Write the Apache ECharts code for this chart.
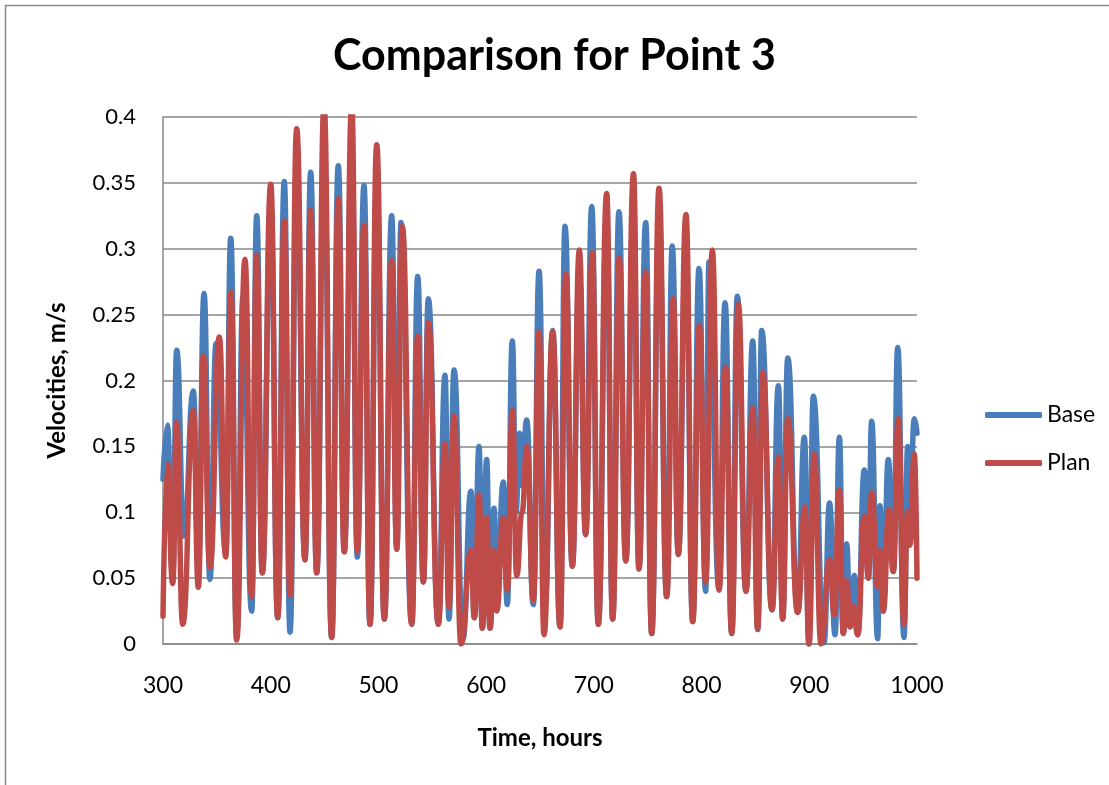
<!DOCTYPE html>
<html>
<head>
<meta charset="utf-8">
<title>Comparison for Point 3</title>
<script src="https://cdn.jsdelivr.net/npm/echarts@6/dist/echarts.min.js"></script>
<style>
  html, body { margin: 0; padding: 0; background: #ffffff; }
  #chart { width: 1109px; height: 785px; }
</style>
</head>
<body>
<div id="chart"></div>
<script>
// Velocity turning points (hours, m/s) for the two runs at Point 3
const baseHours = [
  300, 304.0, 309.0, 312.7, 319.5, 328.1, 332.8, 338.1, 343.6, 349.2,
  358.2, 362.9, 368.4, 374.3, 382.3, 387.0, 392.2, 400.0, 406.5, 412.6,
  417.9, 424.1, 431.8, 437.1, 442.7, 449.5, 456.6, 462.7, 468.3, 475.2,
  480.4, 486.6, 492.2, 498.4, 505.5, 512.3, 517.0, 521.0, 530.9, 536.5,
  541.7, 546.3, 555.6, 561.8, 565.5, 570.2, 578.5, 585.9, 589.0, 593.4,
  596.4, 600.5, 603.6, 607.3, 610.1, 615.9, 619.6, 624.3, 627.7, 631.0,
  633.3, 637.6, 643.8, 649.1, 654.6, 661.8, 668.6, 673.2, 680.0, 686.5,
  692.4, 698.0, 704.1, 711.9, 717.5, 723.3, 729.6, 736.8, 741.9, 748.1,
  753.7, 760.5, 767.6, 772.8, 778.4, 785.5, 791.8, 797.6, 803.8, 806.9,
  816.2, 821.8, 828.0, 833.2, 841.2, 847.5, 852.1, 855.8, 865.4, 871.3,
  875.3, 880.0, 889.2, 895.4, 899.7, 903.7, 913.7, 918.8, 923.9, 927.9,
  931.6, 934.7, 937.8, 941.8, 944.9, 951.1, 954.8, 957.9, 963.5, 965.6,
  968.7, 973.3, 978.0, 982.1, 987.9, 991.4, 993.5, 997.5, 1000
];
const baseVel = [
  0.125, 0.166, 0.050, 0.223, 0.082, 0.192, 0.060, 0.266, 0.049, 0.228,
  0.070, 0.308, 0.005, 0.264, 0.025, 0.325, 0.054, 0.330, 0.020, 0.351,
  0.009, 0.360, 0.064, 0.358, 0.054, 0.370, 0.005, 0.363, 0.070, 0.380,
  0.066, 0.348, 0.015, 0.350, 0.019, 0.325, 0.072, 0.320, 0.015, 0.279,
  0.047, 0.262, 0.015, 0.204, 0.019, 0.208, 0.004, 0.116, 0.020, 0.150,
  0.012, 0.140, 0.012, 0.103, 0.035, 0.123, 0.030, 0.230, 0.100, 0.160,
  0.120, 0.170, 0.030, 0.283, 0.030, 0.238, 0.013, 0.317, 0.059, 0.280,
  0.083, 0.332, 0.015, 0.320, 0.019, 0.328, 0.063, 0.330, 0.057, 0.320,
  0.008, 0.320, 0.036, 0.302, 0.068, 0.300, 0.017, 0.285, 0.040, 0.290,
  0.041, 0.259, 0.008, 0.264, 0.040, 0.230, 0.011, 0.238, 0.026, 0.196,
  0.019, 0.217, 0.024, 0.157, 0.000, 0.188, 0.001, 0.107, 0.007, 0.157,
  0.008, 0.076, 0.013, 0.052, 0.007, 0.132, 0.050, 0.169, 0.004, 0.105,
  0.025, 0.140, 0.055, 0.225, 0.005, 0.150, 0.100, 0.171, 0.160
];

const planHours = [
  300, 304.0, 309.0, 312.7, 318.3, 328.1, 332.8, 337.4, 343.6, 352.3,
  358.2, 363.1, 368.4, 376.1, 382.3, 387.0, 392.2, 400.0, 406.5, 412.6,
  417.9, 424.1, 431.8, 437.1, 442.7, 449.5, 456.6, 462.7, 468.3, 475.2,
  480.4, 486.6, 492.2, 498.4, 505.5, 512.3, 517.0, 522.2, 530.9, 536.5,
  541.7, 546.3, 555.6, 561.8, 565.5, 570.2, 576.7, 585.9, 589.0, 593.6,
  596.4, 600.5, 603.6, 607.3, 609.8, 615.9, 619.6, 624.3, 628.4, 633.3,
  637.9, 643.8, 649.1, 653.7, 661.8, 668.6, 674.1, 680.0, 686.5, 692.4,
  698.6, 704.1, 711.9, 717.5, 723.6, 729.6, 736.8, 741.9, 748.1, 753.7,
  760.5, 767.6, 773.8, 778.4, 785.5, 791.8, 797.9, 803.8, 810.0, 816.2,
  822.4, 828.0, 834.1, 841.2, 847.5, 852.1, 856.8, 865.4, 871.3, 875.3,
  880.0, 889.2, 896.0, 899.7, 904.6, 910.9, 918.8, 923.2, 927.9, 931.6,
  934.7, 937.8, 940.9, 944.9, 951.1, 954.8, 957.9, 963.5, 965.6, 968.7,
  974.0, 978.0, 982.6, 987.9, 991.2, 993.5, 997.5, 1000
];
const planVel = [
  0.021, 0.137, 0.046, 0.168, 0.015, 0.177, 0.043, 0.219, 0.058, 0.233,
  0.066, 0.267, 0.003, 0.292, 0.036, 0.295, 0.054, 0.349, 0.020, 0.321,
  0.037, 0.391, 0.064, 0.329, 0.054, 0.410, 0.005, 0.338, 0.070, 0.410,
  0.070, 0.318, 0.015, 0.379, 0.019, 0.291, 0.072, 0.317, 0.015, 0.234,
  0.047, 0.244, 0.015, 0.152, 0.028, 0.173, 0.000, 0.071, 0.020, 0.113,
  0.012, 0.096, 0.012, 0.071, 0.025, 0.096, 0.041, 0.177, 0.052, 0.100,
  0.150, 0.033, 0.237, 0.007, 0.237, 0.013, 0.281, 0.059, 0.299, 0.083,
  0.297, 0.015, 0.342, 0.019, 0.293, 0.063, 0.357, 0.057, 0.282, 0.008,
  0.346, 0.036, 0.262, 0.068, 0.326, 0.017, 0.242, 0.047, 0.299, 0.041,
  0.210, 0.008, 0.258, 0.040, 0.179, 0.011, 0.206, 0.026, 0.142, 0.019,
  0.171, 0.024, 0.104, 0.000, 0.144, 0.000, 0.064, 0.022, 0.117, 0.008,
  0.048, 0.013, 0.029, 0.007, 0.097, 0.050, 0.115, 0.043, 0.071, 0.025,
  0.102, 0.055, 0.171, 0.015, 0.100, 0.075, 0.144, 0.050
];

const seriesNames = ['Base', 'Plan'];
const yTicks = [0, 0.05, 0.1, 0.15, 0.2, 0.25, 0.3, 0.35, 0.4];
const xTicks = [300, 400, 500, 600, 700, 800, 900, 1000];

const FONT = 'Lato, "Open Sans", sans-serif';
const GRID_GREY = '#878787';

const toPairs = (hours, vel) => hours.map((h, i) => [h, vel[i]]);

const chart = echarts.init(document.getElementById('chart'), null, { renderer: 'canvas' });

chart.setOption({
  backgroundColor: '#ffffff',
  animation: false,
  title: {
    text: 'Comparison for Point 3',
    left: 'center',
    top: 30,
    textStyle: { fontFamily: FONT, fontSize: 43, fontWeight: 'bold', color: '#000000' }
  },
  legend: {
    orient: 'vertical',
    left: 980,
    top: 398,
    itemWidth: 57,
    itemHeight: 6,
    itemGap: 24,
    icon: 'roundRect',
    data: seriesNames,
    textStyle: { fontFamily: FONT, fontSize: 23, color: '#000000', lineHeight: 24 }
  },
  grid: { left: 163, top: 117, right: 192, bottom: 141, containLabel: false },
  xAxis: {
    type: 'value',
    min: xTicks[0],
    max: xTicks[xTicks.length - 1],
    interval: 100,
    name: 'Time, hours',
    nameLocation: 'middle',
    nameGap: 82,
    nameTextStyle: { fontFamily: FONT, fontSize: 24, fontWeight: 'bold', color: '#000000' },
    axisLine: { show: true, lineStyle: { color: GRID_GREY, width: 1.5 } },
    axisTick: { show: false },
    splitLine: { show: false },
    axisLabel: {
      fontFamily: FONT, fontSize: 23, color: '#000000', margin: 30,
      formatter: v => String(v)
    }
  },
  yAxis: {
    type: 'value',
    min: yTicks[0],
    max: yTicks[yTicks.length - 1],
    interval: 0.05,
    name: 'Velocities, m/s',
    nameLocation: 'middle',
    nameRotate: 90,
    nameGap: 94,
    nameTextStyle: { fontFamily: FONT, fontSize: 24, fontWeight: 'bold', color: '#000000' },
    axisLine: { show: true, lineStyle: { color: GRID_GREY, width: 1.5 } },
    axisTick: { show: false },
    splitLine: { show: true, lineStyle: { color: GRID_GREY, width: 1.5 } },
    axisLabel: {
      fontFamily: FONT, fontSize: 22, color: '#000000', margin: 27,
      formatter: v => String(Math.round(v * 100) / 100)
    }
  },
  series: [
    {
      name: seriesNames[0],
      type: 'line',
      data: toPairs(baseHours, baseVel),
      showSymbol: false,
      symbol: 'none',
      smooth: 0.5,
      smoothMonotone: 'x',
      clip: true,
      color: '#4A7EBB',
      lineStyle: { color: '#4A7EBB', width: 5.5, cap: 'round', join: 'round' },
      z: 2
    },
    {
      name: seriesNames[1],
      type: 'line',
      data: toPairs(planHours, planVel),
      showSymbol: false,
      symbol: 'none',
      smooth: 0.5,
      smoothMonotone: 'x',
      clip: true,
      color: '#BE4B48',
      lineStyle: { color: '#BE4B48', width: 5.5, cap: 'round', join: 'round' },
      z: 3
    }
  ],
  graphic: [
    {
      type: 'polyline',
      silent: true,
      shape: { points: [[5.5, 785], [5.5, 5.5], [1109, 5.5]] },
      style: { stroke: '#8a8a8a', lineWidth: 1.5, fill: null }
    }
  ]
});
</script>
</body>
</html>
